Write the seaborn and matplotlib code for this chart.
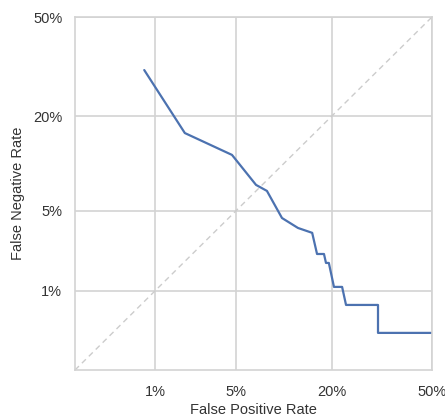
import math
import numpy as np
import pandas as pd
import matplotlib
matplotlib.use("Agg")
import matplotlib.pyplot as plt
import seaborn as sns
from matplotlib.ticker import FixedLocator, FixedFormatter, NullLocator

# Data (rates, not percentages)
fpr = [0.0078, 0.0189, 0.0464, 0.0696, 0.0827, 0.1037, 0.130, 0.157, 0.167,
       0.182, 0.1865, 0.193, 0.205, 0.225, 0.235, 0.325, 0.325, 0.497]
fnr = [0.326, 0.162, 0.1206, 0.0768, 0.0697, 0.0438, 0.0365, 0.0333, 0.0220,
       0.0220, 0.0183, 0.0183, 0.0109, 0.0109, 0.0072, 0.0072, 0.00363, 0.00363]
tick_values = [0.01, 0.05, 0.2, 0.5]
tick_labels = ["1%", "5%", "20%", "50%"]

_erf = np.vectorize(math.erf, otypes=[float])


def norm_cdf(z):
    z = np.asarray(z, dtype=float)
    return 0.5 * (1.0 + _erf(z / math.sqrt(2.0)))


def norm_ppf(p):
    p = np.asarray(p, dtype=float)
    lo = np.full(p.shape, -10.0)
    hi = np.full(p.shape, 10.0)
    for _ in range(60):
        mid = 0.5 * (lo + hi)
        below = norm_cdf(mid) < p
        lo = np.where(below, mid, lo)
        hi = np.where(below, hi, mid)
    return 0.5 * (lo + hi)


sns.set_theme(style="whitegrid")
plt.rcParams["font.family"] = ["Liberation Sans", "DejaVu Sans"]

fig = plt.figure(figsize=(4.45, 4.17), dpi=100)
ax = fig.add_axes([75 / 445, 1 - 370 / 417, 357 / 445, 353 / 417])

df = pd.DataFrame({"False Positive Rate": fpr, "False Negative Rate": fnr})
sns.lineplot(data=df, x="False Positive Rate", y="False Negative Rate",
             estimator=None, sort=False, ax=ax, color="#4c72b0", linewidth=1.6)

ax.set_xscale("function", functions=(norm_ppf, norm_cdf))
ax.set_yscale("function", functions=(norm_ppf, norm_cdf))

lim = float(norm_cdf(-3.0))
ax.plot([lim, 0.5], [lim, 0.5], linestyle="--", color="#cccccc",
        linewidth=1.0, dashes=(4, 3), zorder=1)

ax.set_xlim(lim, 0.5)
ax.set_ylim(lim, 0.5)
for axis in (ax.xaxis, ax.yaxis):
    axis.set_major_locator(FixedLocator(tick_values))
    axis.set_major_formatter(FixedFormatter(tick_labels))
    axis.set_minor_locator(NullLocator())

ax.grid(True, color="#d3d3d3", linewidth=1.2)
for s in ax.spines.values():
    s.set_color("#d3d3d3")
    s.set_linewidth(1.2)

ax.tick_params(axis="x", length=0, labelsize=10.5, pad=10.5, colors="#333333")
ax.tick_params(axis="y", length=0, labelsize=10.5, pad=9.2, colors="#333333")
ax.set_xlabel("False Positive Rate", fontsize=10.5, color="#333333", labelpad=3)
ax.set_ylabel("False Negative Rate", fontsize=10.5, color="#333333", labelpad=6)

fig.savefig("out.png", dpi=100)
